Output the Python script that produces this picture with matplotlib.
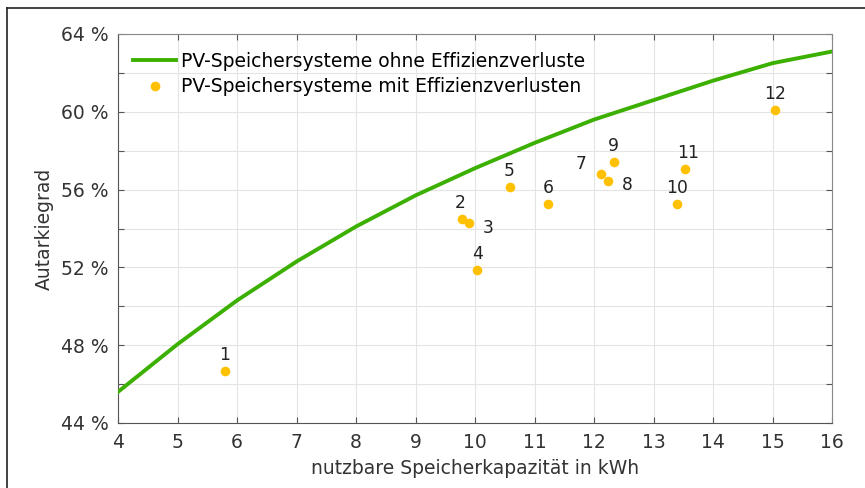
import matplotlib
matplotlib.use('Agg')
import matplotlib.pyplot as plt
from matplotlib.lines import Line2D
import numpy as np

plt.rcParams['font.family'] = ['DejaVu Sans']

# curve: PV storage systems without efficiency losses
curve_x = [4, 5, 6, 7, 8, 9, 10, 11, 12, 13, 14, 15, 16]
curve_y = [45.6, 48.05, 50.3, 52.3, 54.1, 55.7, 57.1, 58.4, 59.6, 60.6, 61.6, 62.5, 63.1]

# measured systems with efficiency losses
sys_labels = ['1', '2', '3', '4', '5', '6', '7', '8', '9', '10', '11', '12']
sys_x = [5.80, 9.78, 9.90, 10.04, 10.58, 11.23, 12.11, 12.24, 12.33, 13.39, 13.53, 15.05]
sys_y = [46.67, 54.47, 54.30, 51.87, 56.15, 55.28, 56.80, 56.43, 57.43, 55.24, 57.04, 60.09]
label_off = [(0, 5), (-1, 5), (10, -4), (0, 5), (0, 5), (0, 5),
             (-10, 1), (10, -3), (0, 5), (0, 5), (2, 5), (0, 5)]

green = '#3cb000'
gold = '#ffc000'
fs = 13.5

fig = plt.figure(figsize=(8.65, 4.88), dpi=100)
ax = fig.add_axes([118 / 865, 1 - 423 / 488, (832 - 118) / 865, (423 - 34) / 488])

ax.plot(curve_x, curve_y, color=green, lw=2.8, zorder=3)
ax.scatter(sys_x, sys_y, s=48, color=gold, zorder=4, linewidths=0)
for lab, x, y, off in zip(sys_labels, sys_x, sys_y, label_off):
    ha = 'center'
    if off[0] < -5:
        ha = 'right'
    elif off[0] > 5:
        ha = 'left'
    va = 'bottom' if off[1] > 0 else 'center'
    ax.annotate(lab, (x, y), xytext=off, textcoords='offset points',
                ha=ha, va=va, fontsize=12.3, color='#222222')

ax.set_xlim(4, 16)
ax.set_ylim(44, 64)
ax.set_xticks(range(4, 17))
ax.set_yticks(np.arange(44, 65, 2))
ax.set_yticklabels(['%d %%' % v if v % 4 == 0 else '' for v in range(44, 65, 2)])
ax.tick_params(direction='in', length=4, top=True, right=True, labelsize=fs,
               colors='#555555', labelcolor='#333333')
ax.tick_params(axis='x', pad=7)
ax.tick_params(axis='y', pad=7)
ax.grid(True, color='#e4e4e4', lw=0.8)
ax.set_axisbelow(True)
for side in ['left', 'bottom']:
    ax.spines[side].set_color('#555555')
for side in ['top', 'right']:
    ax.spines[side].set_color('#888888')

ax.set_xlabel('nutzbare Speicherkapazität in kWh', fontsize=fs, color='#333333', labelpad=5)
ax.set_ylabel('Autarkiegrad', fontsize=fs, color='#333333', labelpad=5)

handles = [Line2D([], [], color=green, lw=2.8),
           Line2D([], [], color=gold, marker='o', ls='none', ms=7, mec='none')]
ax.legend(handles, ['PV-Speichersysteme ohne Effizienzverluste',
                    'PV-Speichersysteme mit Effizienzverlusten'],
          loc='upper left', frameon=False, fontsize=fs, handlelength=2.3,
          borderaxespad=0, borderpad=0, labelspacing=0.33, handletextpad=0.25,
          bbox_to_anchor=(15 / 714, 1 - 18 / 389))

# outer frame (left and top edges)
fig.add_artist(Line2D([7 / 865, 7 / 865], [0, 1 - 8 / 488], color='#222222', lw=1.2))
fig.add_artist(Line2D([7 / 865, 1], [1 - 8 / 488, 1 - 8 / 488], color='#222222', lw=1.2))

fig.savefig('out.png', dpi=100)
